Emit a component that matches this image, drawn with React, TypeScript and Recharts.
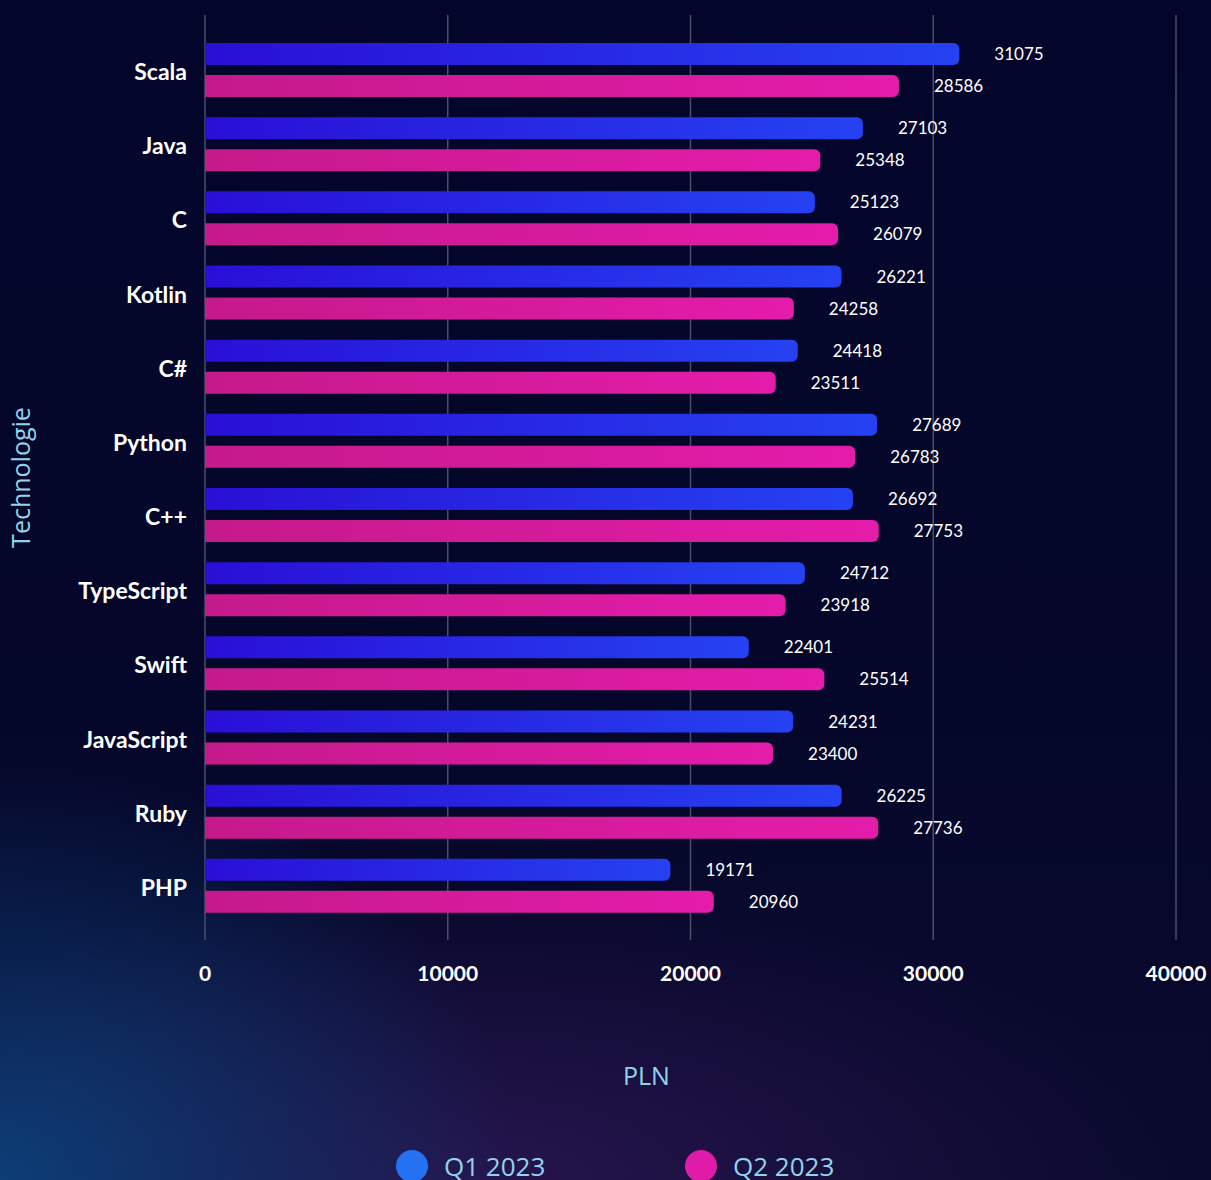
import { BarChart, Bar, XAxis, YAxis, CartesianGrid, LabelList } from 'recharts';

const technologies = ['Scala', 'Java', 'C', 'Kotlin', 'C#', 'Python', 'C++', 'TypeScript', 'Swift', 'JavaScript', 'Ruby', 'PHP'];
const q1Values = [31075, 27103, 25123, 26221, 24418, 27689, 26692, 24712, 22401, 24231, 26225, 19171];
const q2Values = [28586, 25348, 26079, 24258, 23511, 26783, 27753, 23918, 25514, 23400, 27736, 20960];
const xTicks = [0, 10000, 20000, 30000, 40000];
const seriesNames = ['Q1 2023', 'Q2 2023'];
const seriesColors = ['#2671f2', '#e01ba9'];

const data = technologies.map((name, i) => ({ name, q1: q1Values[i], q2: q2Values[i] }));

const FONT = 'Lato, "Open Sans", sans-serif';
const LABEL_COLOR = '#93d3ea';

function CategoryTick(props: any) {
  const { x, y, payload } = props;
  return (
    <text x={x - 10} y={y} dy={10} textAnchor="end" fill="#ffffff" fontSize={23} fontWeight={700} fontFamily={FONT}>
      {payload.value}
    </text>
  );
}

function ValueTick(props: any) {
  const { x, y, payload } = props;
  return (
    <text x={x} y={y} dy={33} textAnchor="middle" fill="#ffffff" fontSize={21} fontWeight={700} fontFamily={FONT}>
      {payload.value}
    </text>
  );
}

export default function App() {
  return (
    <div
      style={{
        position: 'absolute',
        left: 0,
        top: 0,
        width: 1211,
        height: 1180,
        overflow: 'hidden',
        background:
          'radial-gradient(ellipse 520px 420px at 0px 1180px, rgba(12,70,130,0.85), rgba(12,70,130,0) 100%), radial-gradient(ellipse 700px 300px at 480px 1180px, rgba(50,25,90,0.7), rgba(50,25,90,0) 100%), linear-gradient(180deg, #04052a 0%, #05072a 60%, #0a0a2e 100%)',
      }}
    >
      <BarChart
        width={1211}
        height={1180}
        data={data}
        layout="vertical"
        margin={{ top: 15, right: 35, bottom: 210, left: 0 }}
        barCategoryGap={10}
        barGap={10}
      >
        <defs>
          <linearGradient id="gradQ1" x1="0" y1="0" x2="1" y2="0">
            <stop offset="0%" stopColor="#2a0fd6" />
            <stop offset="100%" stopColor="#2542f2" />
          </linearGradient>
          <linearGradient id="gradQ2" x1="0" y1="0" x2="1" y2="0">
            <stop offset="0%" stopColor="#c51a8b" />
            <stop offset="100%" stopColor="#e41cab" />
          </linearGradient>
        </defs>
        <CartesianGrid horizontal={false} stroke="#4b4e6b" strokeWidth={1.5} />
        <XAxis
          type="number"
          domain={[0, 40000]}
          ticks={xTicks}
          axisLine={false}
          tickLine={false}
          tick={<ValueTick />}
          label={{ value: 'PLN', position: 'insideBottom', offset: -115, dx: -44, fill: LABEL_COLOR, fontSize: 25, fontFamily: '"Open Sans", sans-serif' }}
        />
        <YAxis
          type="category"
          dataKey="name"
          width={205}
          axisLine={false}
          tickLine={false}
          tick={<CategoryTick />}
          padding={{ top: 18, bottom: 17 }}
          label={{
            value: 'Technologie',
            angle: -90,
            position: 'insideLeft',
            offset: 21,
            fill: LABEL_COLOR,
            fontSize: 25,
            fontFamily: '"Open Sans", sans-serif',
            style: { textAnchor: 'middle' },
          }}
        />
        <Bar dataKey="q1" name={seriesNames[0]} fill="url(#gradQ1)" radius={[0, 6, 6, 0]} isAnimationActive={false}>
          <LabelList dataKey="q1" position="right" offset={35} fill="#ffffff" fontSize={17} fontFamily={FONT} />
        </Bar>
        <Bar dataKey="q2" name={seriesNames[1]} fill="url(#gradQ2)" radius={[0, 6, 6, 0]} isAnimationActive={false}>
          <LabelList dataKey="q2" position="right" offset={35} fill="#ffffff" fontSize={17} fontFamily={FONT} />
        </Bar>
      </BarChart>
      {seriesNames.map((s, i) => (
        <div
          key={s}
          style={{ position: 'absolute', left: 396 + i * 289, top: 1148, display: 'flex', alignItems: 'center' }}
        >
          <span style={{ width: 32, height: 32, borderRadius: 16, background: seriesColors[i], display: 'inline-block' }} />
          <span style={{ marginLeft: 16, color: LABEL_COLOR, fontSize: 26, fontFamily: '"Open Sans", sans-serif', whiteSpace: 'nowrap' }}>
            {s}
          </span>
        </div>
      ))}
    </div>
  );
}
